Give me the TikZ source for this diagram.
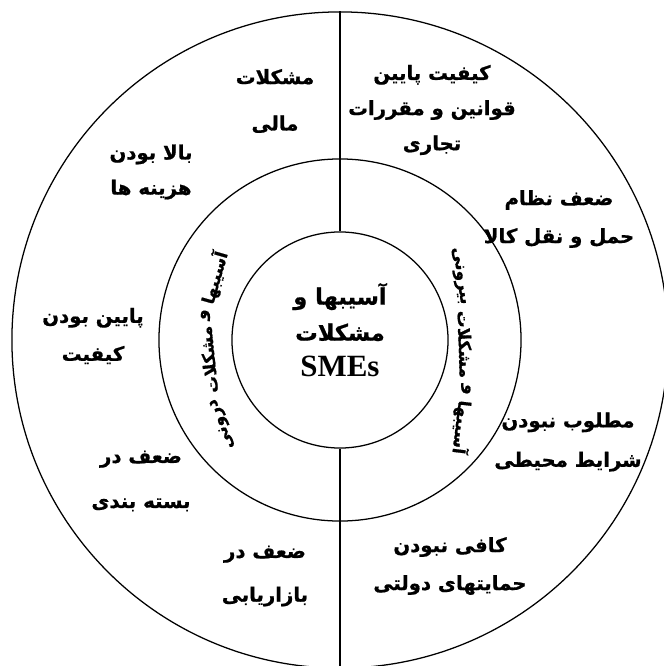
\documentclass[tikz,border=0pt]{standalone}
\usepackage{fontspec}
\setmainfont{Liberation Serif}
\newfontfamily\farsi[Script=Arabic,BoldFeatures={FakeBold=0.8}]{DejaVu Sans}
\TeXXeTstate=1
\newcommand{\rtl}[1]{{\farsi\bfseries\beginR #1\endR}}

\begin{document}
\begin{tikzpicture}[x=0.025cm,y=0.025cm,
  ring/.style={draw,circle,line width=0.9pt,inner sep=0pt},
  issue/.style={align=center,font=\fontsize{14}{24}\selectfont},
  arcword/.style={inner xsep=2pt,inner ysep=0pt,anchor=east,font=\fontsize{12}{14}\selectfont}
]
\useasboundingbox (-340,-326) rectangle (324,340);
\clip (-340,-326) rectangle (324,340);
\node[ring,minimum size=16.4cm] (outer) at (0,0) {};
\node[ring,minimum size=9.05cm] (mid) at (0,0) {};
\node[ring,minimum size=5.4cm] (core) at (0,0) {};
\node[align=center,font=\fontsize{16}{25.6}\selectfont] (title) at (0,10) {\rtl{آسیبها و}\\ \rtl{مشکلات}\\ {\fontsize{22}{25.6}\selectfont\textbf{SMEs}}};
\draw[line width=0.9pt] (outer.north) -- (core.north);
\draw[line width=0.9pt] (core.south) -- (outer.south);
% internal issues (left half)
\node[issue] (mali) at (-65,239) {\rtl{مشکلات}\\[9pt] \rtl{مالی}};
\node[issue] (hazine) at (-189,168) {\rtl{بالا بودن}\\[1pt] \rtl{هزینه ها}};
\node[issue] (keyfiat) at (-247,4) {\rtl{پایین بودن}\\[3pt] \rtl{کیفیت}};
\node[issue] (baste) at (-199,-141) {\rtl{ضعف در}\\[8pt] \rtl{بسته بندی}};
\node[issue] (bazar) at (-75,-236) {\rtl{ضعف در}\\[7pt] \rtl{بازاریابی}};
% external issues (right half)
\node[issue] (ghavanin) at (92,230) {\rtl{کیفیت پایین}\\[1pt] \rtl{قوانین و مقررات}\\[1pt] \rtl{تجاری}};
\node[issue] (haml) at (219,121) {\rtl{ضعف نظام}\\[3pt] \rtl{حمل و نقل کالا}};
\node[issue] (mohit) at (228,-102) {\rtl{مطلوب نبودن}\\[4pt] \rtl{شرایط محیطی}};
\node[issue] (dolat) at (110,-226) {\rtl{کافی نبودن}\\[3pt] \rtl{حمایتهای دولتی}};
% ring titles, word after word along the ring
\coordinate (instart) at (-117,91);
\node[arcword,rotate=74] (in1) at (instart) {\rtl{آسیبها}};
\node[arcword,rotate=84] (in2) at (in1.west) {\rtl{و}};
\node[arcword,rotate=96] (in3) at (in2.west) {\rtl{مشکلات}};
\node[arcword,rotate=110] (in4) at (in3.west) {\rtl{درونی}};
\coordinate (outstart) at (118,-117);
\node[arcword,rotate=-97] (out1) at (outstart) {\rtl{آسیبها}};
\node[arcword,rotate=-93] (out2) at (out1.west) {\rtl{و}};
\node[arcword,rotate=-88] (out3) at (out2.west) {\rtl{مشکلات}};
\node[arcword,rotate=-82] (out4) at (out3.west) {\rtl{بیرونی}};
\end{tikzpicture}
\end{document}
